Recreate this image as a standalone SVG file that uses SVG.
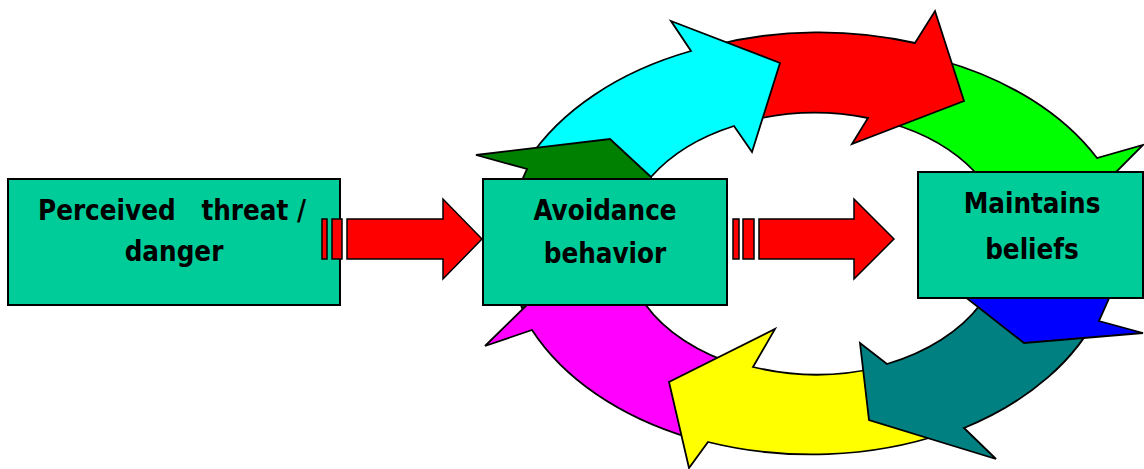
<svg xmlns="http://www.w3.org/2000/svg" width="1144" height="469" viewBox="0 0 1144 469">
  <style>
    .ring { stroke: #000; stroke-width: 1.8; stroke-linejoin: miter; }
    .box { fill: #00CC99; stroke: #000; stroke-width: 2; }
    .lbl { font-family: "DejaVu Sans Condensed", "DejaVu Sans", sans-serif; font-stretch: condensed; font-weight: bold; font-size: 27.5px; fill: #000; }
    .arr { fill: #FF0000; stroke: #000; stroke-width: 1.5; }
  </style>
  <rect width="1144" height="469" fill="#FFFFFF"/>

  <g id="cycle">
    <path class="ring" fill="#00FF00" d="M 940,60 A 306 213 0 0 1 1097,158 L 1143,145 L 1116,172 L 1118,190 L 985,190 L 975,172 A 190 131 0 0 0 890,123 Z"/>
    <path class="ring" fill="#FF0000" d="M 715,45 A 306 213 0 0 1 915,43 L 935,11 L 964,101 L 852,144 L 868,118 A 190 131 0 0 0 745,122 Z"/>
    <path class="ring" fill="#00FFFF" d="M 528,160 A 306 213 0 0 1 691,51 L 671,21 L 780,63 L 752,152 L 734,126 A 190 131 0 0 0 651,177 L 600,185 Z"/>
    <path class="ring" fill="#008000" d="M 476,155 L 610,139 L 651,177 L 660,250 L 560,300 L 522,308 L 519,300 L 523,178 L 527,169 Z"/>
    <path class="ring" fill="#FF00FF" d="M 533,299 L 485,346 L 532,330 A 306 213 0 0 0 690,438 L 740,366 A 190 131 0 0 1 645,304 L 650,299 Z"/>
    <path class="ring" fill="#FFFF00" d="M 945,433 A 306 213 0 0 1 708,442 L 689,468 L 669,382 L 775,329 L 753,367 A 190 131 0 0 0 880,367 Z"/>
    <path class="ring" fill="#008080" d="M 1000,285 L 1105,285 L 1100,310 A 306 213 0 0 1 964,428 L 996,459 L 869,420 L 860,343 L 887,364 A 190 131 0 0 0 980,305 Z"/>
    <path class="ring" fill="#0000FF" d="M 950,285 L 1024,343 L 1143,333 L 1099,321 L 1115,285 Z"/>
  </g>

  <g id="node-threat">
    <rect class="box" x="8" y="179" width="332" height="126"/>
    <text class="lbl" x="38" y="220">Perceived</text>
    <text class="lbl" x="306" y="220" text-anchor="end">threat /</text>
    <text class="lbl" x="174" y="261" text-anchor="middle">danger</text>
  </g>

  <g id="node-avoidance">
    <rect class="box" x="483" y="179" width="244" height="126"/>
    <text class="lbl" x="605" y="220" text-anchor="middle">Avoidance</text>
    <text class="lbl" x="605" y="263" text-anchor="middle">behavior</text>
  </g>

  <g id="node-beliefs">
    <rect class="box" x="918" y="172" width="225" height="126"/>
    <text class="lbl" x="1032" y="213" text-anchor="middle">Maintains</text>
    <text class="lbl" x="1032" y="259" text-anchor="middle">beliefs</text>
  </g>

  <g id="connectors">
    <g id="arrow-1">
      <rect class="arr" x="322" y="219" width="5" height="40"/>
      <rect class="arr" x="332" y="219" width="10" height="40"/>
      <path class="arr" d="M 347,219 H 443 V 199 L 482,239 L 443,279 V 259 H 347 Z"/>
    </g>
    <g id="arrow-2">
      <rect class="arr" x="733" y="219" width="6" height="40"/>
      <rect class="arr" x="743" y="219" width="11" height="40"/>
      <path class="arr" d="M 759,219 H 854 V 199 L 894,239 L 854,279 V 259 H 759 Z"/>
    </g>
  </g>
</svg>
